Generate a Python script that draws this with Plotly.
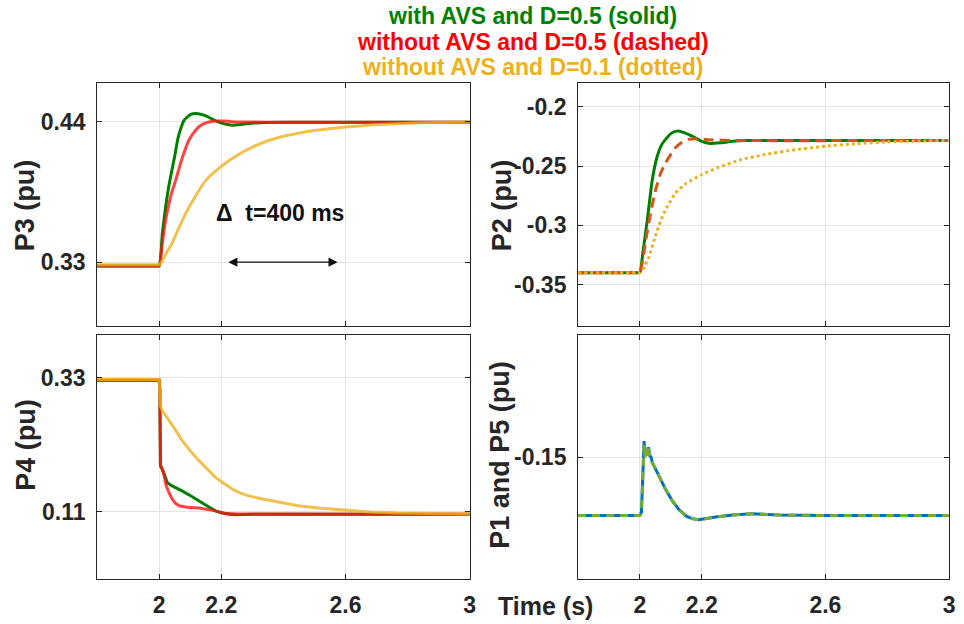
import plotly.graph_objects as go

# ---------------- data ----------------
# P3 (top-left)
T_P3_G = [1.8, 1.99, 2.0, 2.01, 2.02, 2.03, 2.04, 2.05, 2.06, 2.07, 2.08, 2.1, 2.12, 2.15, 2.18, 2.21, 2.235, 2.27, 2.32, 2.4, 3.0]
P3_G = [0.327, 0.327, 0.327, 0.352, 0.372, 0.388, 0.401, 0.413, 0.4265, 0.435, 0.441, 0.4455, 0.4464, 0.4445, 0.4408, 0.4382, 0.4372, 0.4380, 0.4392, 0.4396, 0.4396]
T_P3_R = [1.8, 1.99, 2.0, 2.01, 2.02, 2.03, 2.04, 2.053, 2.072, 2.096, 2.11, 2.128, 2.15, 2.18, 2.21, 2.25, 2.35, 3.0]
P3_R = [0.327, 0.327, 0.327, 0.345, 0.362, 0.374, 0.384, 0.394, 0.410, 0.4256, 0.431, 0.436, 0.4390, 0.4405, 0.4404, 0.4398, 0.4396, 0.4396]
T_P3_Y = [1.8, 1.99, 2.0, 2.01, 2.02, 2.04, 2.06, 2.085, 2.12, 2.15, 2.2, 2.25, 2.3, 2.35, 2.4, 2.45, 2.5, 2.6, 2.7, 2.8, 2.9, 3.0]
P3_Y = [0.328, 0.328, 0.328, 0.331, 0.336, 0.344, 0.355, 0.368, 0.383, 0.394, 0.405, 0.4135, 0.420, 0.425, 0.4285, 0.431, 0.4330, 0.4358, 0.4376, 0.4387, 0.4393, 0.4396]

# P2 (top-right)
T_P2_G = [1.8, 1.99, 2.0, 2.01, 2.024, 2.04, 2.056, 2.07, 2.083, 2.1, 2.12, 2.14, 2.169, 2.2, 2.227, 2.26, 2.3, 2.35, 3.0]
P2_G = [-0.340, -0.340, -0.340, -0.322, -0.2953, -0.2614, -0.2416, -0.2320, -0.2274, -0.2225, -0.2204, -0.2214, -0.2246, -0.2290, -0.2308, -0.2303, -0.2290, -0.2283, -0.2283]
T_P2_R = [1.8, 1.99, 2.0, 2.019, 2.035, 2.051, 2.067, 2.083, 2.1, 2.115, 2.135, 2.158, 2.18, 2.22, 2.3, 3.0]
P2_R = [-0.340, -0.340, -0.340, -0.3123, -0.289, -0.2699, -0.256, -0.2472, -0.240, -0.2345, -0.2300, -0.2274, -0.2268, -0.2276, -0.2283, -0.2283]
T_P2_Y = [1.8, 1.99, 2.0, 2.01, 2.0295, 2.05, 2.0725, 2.09, 2.115, 2.15, 2.2, 2.25, 2.329, 2.4, 2.5, 2.6, 2.7, 2.81, 2.9, 3.0]
P2_Y = [-0.340, -0.340, -0.340, -0.337, -0.3265, -0.309, -0.2925, -0.2835, -0.2727, -0.2645, -0.2571, -0.2515, -0.2444, -0.2404, -0.2362, -0.2331, -0.2310, -0.2294, -0.2288, -0.2283]

# P4 (bottom-left)
T_P4_G = [1.8, 1.999, 2.0, 2.002, 2.004, 2.01, 2.018, 2.026, 2.04, 2.053, 2.075, 2.096, 2.12, 2.138, 2.16, 2.181, 2.2, 2.224, 2.25, 2.3, 3.0]
P4_G = [0.326, 0.326, 0.326, 0.31, 0.186, 0.180, 0.168, 0.158, 0.153, 0.150, 0.144, 0.138, 0.131, 0.1254, 0.118, 0.1117, 0.1085, 0.1062, 0.1055, 0.1060, 0.1063]
T_P4_R = [1.8, 1.999, 2.0, 2.002, 2.004, 2.01, 2.015, 2.021, 2.03, 2.042, 2.053, 2.064, 2.09, 2.128, 2.16, 2.181, 2.21, 2.25, 3.0]
P4_R = [0.326, 0.326, 0.326, 0.31, 0.186, 0.180, 0.172, 0.1557, 0.143, 0.131, 0.124, 0.120, 0.1175, 0.1165, 0.1140, 0.1117, 0.1078, 0.1066, 0.1063]
T_P4_Y = [1.8, 1.999, 2.0, 2.002, 2.004, 2.01, 2.032, 2.05, 2.074, 2.1, 2.128, 2.15, 2.181, 2.21, 2.235, 2.26, 2.288, 2.32, 2.352, 2.4, 2.448, 2.52, 2.6, 2.68, 2.769, 2.9, 3.0]
P4_Y = [0.327, 0.327, 0.327, 0.30, 0.283, 0.276, 0.260, 0.246, 0.227, 0.210, 0.194, 0.183, 0.1666, 0.156, 0.1475, 0.1412, 0.1364, 0.1325, 0.1295, 0.1243, 0.1200, 0.1158, 0.1125, 0.1100, 0.1082, 0.1068, 0.1064]

# P1 and P5 (bottom-right)
T_P1 = [1.8, 2.0, 2.005, 2.009, 2.0135, 2.017, 2.021, 2.025, 2.028, 2.032, 2.036, 2.04, 2.06, 2.083, 2.105, 2.126, 2.15, 2.169, 2.19, 2.2, 2.25, 2.3, 2.361, 2.45, 2.6, 3.0]
P1 = [-0.1596, -0.1596, -0.1590, -0.152, -0.1474, -0.1495, -0.1488, -0.1496, -0.1484, -0.1498, -0.1500, -0.1509, -0.1530, -0.1553, -0.1572, -0.1586, -0.1597, -0.1601, -0.1603, -0.1602, -0.1598, -0.1595, -0.1593, -0.1595, -0.1596, -0.1596]
P5 = [-0.1596, -0.1596, -0.1590, -0.153, -0.1480, -0.1500, -0.1486, -0.1498, -0.1486, -0.1497, -0.1501, -0.1509, -0.1530, -0.1553, -0.1572, -0.1586, -0.1597, -0.1601, -0.1603, -0.1602, -0.1598, -0.1595, -0.1593, -0.1595, -0.1596, -0.1596]

X_TICKS = [2, 2.2, 2.6, 3]
X_TICKTEXT = ["2", "2.2", "2.6", "3"]
Y_TICKS_P3 = [0.33, 0.44]
Y_TICKS_P2 = [-0.35, -0.3, -0.25, -0.2]
Y_TICKTEXT_P2 = ["-0.35", "-0.3", "-0.25", "-0.2"]
Y_TICKS_P4 = [0.11, 0.33]
Y_TICKS_P1 = [-0.15]
Y_TICKTEXT_P1 = ["-0.15"]

TITLES = ["with AVS and D=0.5 (solid)", "without AVS and D=0.5 (dashed)", "without AVS and D=0.1 (dotted)"]

# ---------------- figure ----------------
W, H = 964, 624
FONT = "Liberation Sans, Arial, Helvetica, sans-serif"
GREEN = "#008000"
RED = "rgba(255,20,20,0.8)"
YEL = "rgba(237,177,32,0.8)"

fig = go.Figure()

def add(x, y, color, xa, ya, width=3, dash="solid", shape="spline"):
    fig.add_trace(go.Scatter(x=x, y=y, mode="lines", xaxis=xa, yaxis=ya,
                             line=dict(color=color, width=width, dash=dash, shape=shape, smoothing=0.5),
                             showlegend=False, hoverinfo="skip"))

add(T_P3_G, P3_G, GREEN, "x", "y")
add(T_P3_R, P3_R, RED, "x", "y")
add(T_P3_Y, P3_Y, YEL, "x", "y")

add(T_P2_G, P2_G, GREEN, "x2", "y2", width=3)
add(T_P2_R, P2_R, "#D95319", "x2", "y2", width=3, dash="10px,6px")
add(T_P2_Y, P2_Y, "#EDB120", "x2", "y2", width=3, dash="dot")

add(T_P4_G, P4_G, GREEN, "x3", "y3", shape="linear")
add(T_P4_R, P4_R, RED, "x3", "y3", shape="linear")
add(T_P4_Y, P4_Y, YEL, "x3", "y3", shape="linear")

add(T_P1, P1, "#0072BD", "x4", "y4", shape="linear")
add(T_P1, P5, "#77AC30", "x4", "y4", dash="8px,6px", shape="linear")

def px(xp):
    return xp / W

def py(yp):
    return 1 - yp / H

LX = [px(97.7), px(472.7)]
RX = [px(581.7), px(955)]
TY = [py(326), py(83.3)]
BY = [py(579), py(335)]

tickfont = dict(family=FONT, size=23, color="#262626", weight="bold")

def xaxis(dom, anchor, labels):
    return dict(domain=dom, anchor=anchor, range=[1.8, 3], tickvals=X_TICKS, ticktext=X_TICKTEXT,
                showticklabels=labels, ticks="inside", ticklen=5, tickcolor="#262626",
                showgrid=True, gridcolor="#E3E3E3", gridwidth=1, zeroline=False,
                showline=True, linecolor="#262626", linewidth=1, mirror="ticks",
                tickfont=tickfont, ticklabelstandoff=5)

def yaxis(dom, anchor, rng, vals, text):
    return dict(domain=dom, anchor=anchor, range=rng, tickvals=vals, ticktext=text,
                ticks="inside", ticklen=5, tickcolor="#262626",
                showgrid=True, gridcolor="#E3E3E3", gridwidth=1, zeroline=False,
                showline=True, linecolor="#262626", linewidth=1, mirror="ticks",
                tickfont=tickfont, ticklabelstandoff=6)

fig.update_layout(
    width=W, height=H, margin=dict(l=0, r=0, t=0, b=0),
    paper_bgcolor="white", plot_bgcolor="white", showlegend=False,
    xaxis=xaxis(LX, "y", False),
    yaxis=yaxis(TY, "x", [0.28, 0.47], Y_TICKS_P3, ["0.33", "0.44"]),
    xaxis2=xaxis(RX, "y2", False),
    yaxis2=yaxis(TY, "x2", [-0.385, -0.18], Y_TICKS_P2, Y_TICKTEXT_P2),
    xaxis3=xaxis(LX, "y3", True),
    yaxis3=yaxis(BY, "x3", [0.0, 0.40], Y_TICKS_P4, ["0.11", "0.33"]),
    xaxis4=xaxis(RX, "y4", True),
    yaxis4=yaxis(BY, "x4", [-0.17, -0.13], Y_TICKS_P1, Y_TICKTEXT_P1),
)

ann = []
title_colors = ["#008000", "#FF0000", "#EDB120"]
title_y = [15.5, 42.5, 67.5]
for txt, c, yy in zip(TITLES, title_colors, title_y):
    ann.append(dict(text=txt, x=px(536), y=py(yy), xref="paper", yref="paper",
                    xanchor="center", yanchor="middle", showarrow=False,
                    font=dict(family=FONT, size=23, color=c, weight="bold")))

labfont = dict(family=FONT, size=27, color="#262626", weight="bold")
for txt, xx, yy in [("P3 (pu)", 25, 205.5), ("P2 (pu)", 505, 205.5),
                    ("P4 (pu)", 26, 445), ("P1 and P5 (pu)", 503, 455)]:
    ann.append(dict(text=txt, x=px(xx), y=py(yy), xref="paper", yref="paper",
                    xanchor="center", yanchor="middle", showarrow=False, textangle=-90,
                    font=labfont))
ann.append(dict(text="Time (s)", x=px(549), y=py(606), xref="paper", yref="paper",
                xanchor="center", yanchor="middle", showarrow=False,
                font=dict(family=FONT, size=25, color="#262626", weight="bold")))

ann.append(dict(text="Δ\u00a0 t=400 ms", x=2.389, y=0.3683, xref="x", yref="y",
                xanchor="center", yanchor="middle", showarrow=False,
                font=dict(family=FONT, size=23, color="#111111", weight="bold")))
ann.append(dict(text="", x=2.5744, y=0.33, ax=2.2176, ay=0.33, xref="x", yref="y",
                axref="x", ayref="y", showarrow=True, arrowhead=2, arrowside="end+start",
                arrowsize=1.3, arrowwidth=1.4, arrowcolor="#111111"))

fig.update_layout(annotations=ann)

fig.write_html("out.html", config={"displayModeBar": False},
               post_script="document.body.style.margin='0';document.body.style.overflow='hidden';")
